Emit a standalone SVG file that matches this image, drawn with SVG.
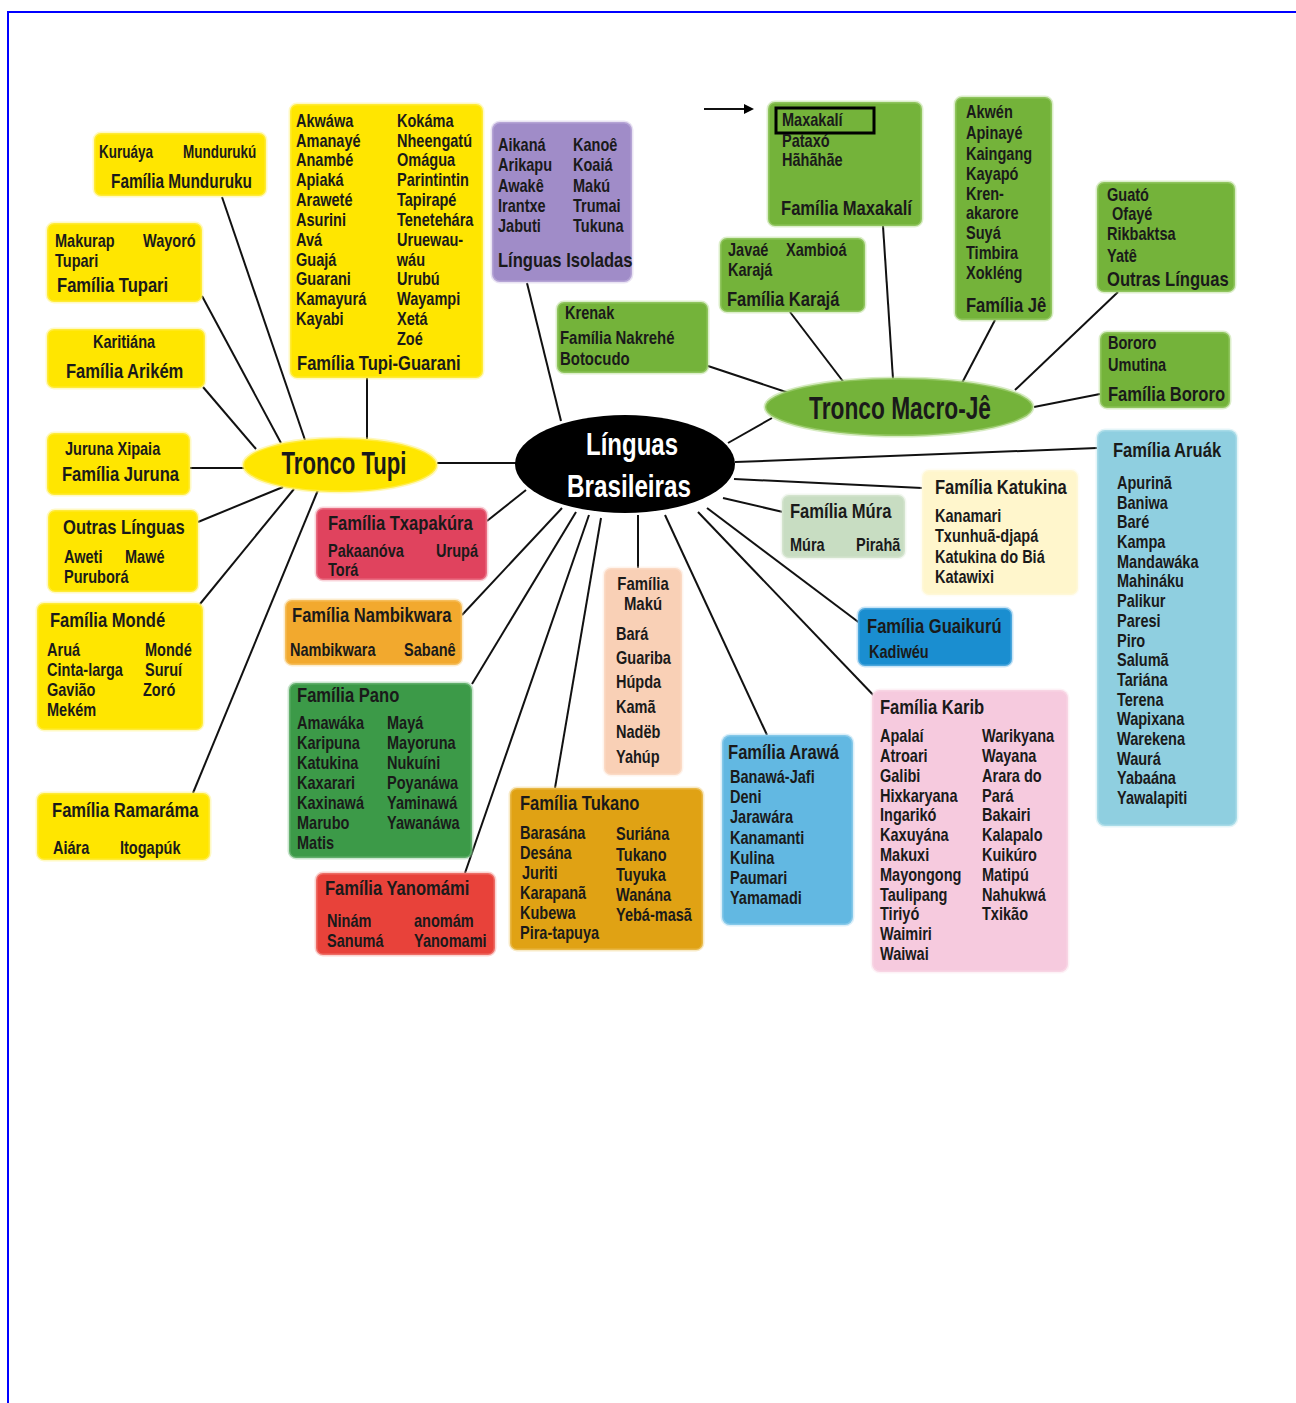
<svg xmlns="http://www.w3.org/2000/svg" width="1296" height="1403" viewBox="0 0 1296 1403">
<defs>
<style>
text{font-family:"Liberation Sans",Arial,sans-serif;font-weight:bold;fill:#1a1a1a;font-size:17.5px;transform-box:fill-box;transform-origin:left center;transform:scaleX(0.83);}
.t{font-size:20px;}
.m{font-size:18px;}
.big{font-size:31px;transform:none;}
.w{fill:#ffffff;}
.c{text-anchor:middle;transform-origin:center;}
#n-munduruku text{transform:scaleX(0.77);}
rect.b{stroke-width:3;stroke-opacity:0.45;}
.yl{fill:#ffe600;stroke:#fff27a;}
.gr{fill:#74b33a;stroke:#b2d98a;}
.pu{fill:#a08cc8;stroke:#cfc2e4;}
.pn{fill:#3c9a48;stroke:#8cc894;}
.tk{fill:#e0a214;stroke:#f0d080;}
.nb{fill:#f2a92e;stroke:#f9d590;}
.tx{fill:#e0435e;stroke:#f2a0ae;}
.ya{fill:#e8423a;stroke:#f4a09a;}
.mk{fill:#f9d0b6;stroke:#fce6d8;}
.mu{fill:#c8ddc2;stroke:#e2eede;}
.ka{fill:#fff6cc;stroke:#fffae6;}
.gu{fill:#1a8ed0;stroke:#86c4ea;}
.kb{fill:#f6cade;stroke:#fae2ec;}
.aw{fill:#62b8e2;stroke:#b0dcf2;}
.ar{fill:#8fcfe0;stroke:#c6e8f0;}
#connectors line{stroke:#111;stroke-width:2;}
</style>
<marker id="ah" markerWidth="10" markerHeight="10" refX="8" refY="5" orient="auto" markerUnits="userSpaceOnUse" viewBox="0 0 10 10">
<polygon points="0,0 10,5 0,10" fill="#000"/>
</marker>
</defs>
<rect x="0" y="0" width="1296" height="1403" fill="#ffffff"/>
<path d="M8 1403 V12 H1296" fill="none" stroke="#0000ff" stroke-width="2"/>

<g id="connectors">
<line x1="222" y1="197" x2="305" y2="440"/>
<line x1="202" y1="296" x2="281" y2="443"/>
<line x1="203" y1="387" x2="256" y2="449"/>
<line x1="367" y1="378" x2="367" y2="439"/>
<line x1="190" y1="468" x2="244" y2="468"/>
<line x1="198" y1="522" x2="283" y2="487"/>
<line x1="200" y1="604" x2="294" y2="489"/>
<line x1="193" y1="793" x2="318" y2="490"/>
<line x1="437" y1="463" x2="516" y2="463"/>
<line x1="527" y1="283" x2="561" y2="421"/>
<line x1="728" y1="443" x2="772" y2="418"/>
<line x1="708" y1="366" x2="792" y2="394"/>
<line x1="790" y1="312" x2="845" y2="384"/>
<line x1="883" y1="226" x2="893" y2="379"/>
<line x1="995" y1="320" x2="962" y2="383"/>
<line x1="1118" y1="292" x2="1015" y2="390"/>
<line x1="1100" y1="394" x2="1034" y2="407"/>
<line x1="735" y1="462" x2="1097" y2="448"/>
<line x1="734" y1="479" x2="922" y2="488"/>
<line x1="723" y1="498" x2="783" y2="512"/>
<line x1="707" y1="508" x2="861" y2="624"/>
<line x1="698" y1="512" x2="878" y2="700"/>
<line x1="665" y1="515" x2="767" y2="735"/>
<line x1="638" y1="515" x2="638" y2="568"/>
<line x1="601" y1="518" x2="555" y2="788"/>
<line x1="589" y1="515" x2="465" y2="873"/>
<line x1="576" y1="512" x2="472" y2="684"/>
<line x1="562" y1="508" x2="462" y2="615"/>
<line x1="526" y1="490" x2="487" y2="521"/>
<line x1="704" y1="109" x2="752" y2="109" marker-end="url(#ah)"/>
</g>

<g id="n-linguas-brasileiras">
<ellipse cx="625" cy="464" rx="110" ry="49" fill="#000"/>
<text class="big w c" x="632" y="455" textLength="92" lengthAdjust="spacingAndGlyphs">Línguas</text>
<text class="big w c" x="629" y="497" textLength="124" lengthAdjust="spacingAndGlyphs">Brasileiras</text>
</g>

<g id="n-tronco-tupi">
<ellipse cx="340" cy="465" rx="97" ry="27" fill="#ffe600" stroke="#fff27a" stroke-width="3" stroke-opacity="0.5"/>
<text class="big c" x="344" y="474" textLength="125" lengthAdjust="spacingAndGlyphs">Tronco Tupi</text>
</g>

<g id="n-tronco-macro-je">
<ellipse cx="899" cy="407" rx="134" ry="29" fill="#74b33a" stroke="#b2d98a" stroke-width="3" stroke-opacity="0.5"/>
<text class="big c" x="900" y="419" textLength="182" lengthAdjust="spacingAndGlyphs">Tronco Macro-Jê</text>
</g>

<g id="n-munduruku">
<rect class="b yl" x="94" y="133" width="172" height="63" rx="7"/>
<text x="99" y="158">Kuruáya</text>
<text x="183" y="158">Mundurukú</text>
<text class="t" x="111" y="188">Família Munduruku</text>
</g>

<g id="n-tupari">
<rect class="b yl" x="47" y="223" width="155" height="79" rx="7"/>
<text x="55" y="247">Makurap</text>
<text x="143" y="247">Wayoró</text>
<text x="55" y="267">Tupari</text>
<text class="t" x="57" y="292">Família Tupari</text>
</g>

<g id="n-arikem">
<rect class="b yl" x="47" y="329" width="158" height="59" rx="7"/>
<text x="93" y="348">Karitiána</text>
<text class="t" x="66" y="378">Família Arikém</text>
</g>

<g id="n-juruna">
<rect class="b yl" x="47" y="433" width="143" height="62" rx="7"/>
<text x="65" y="455">Juruna Xipaia</text>
<text class="t" x="62" y="481">Família Juruna</text>
</g>

<g id="n-outras-tupi">
<rect class="b yl" x="48" y="510" width="150" height="82" rx="7"/>
<text class="t" x="63" y="534">Outras Línguas</text>
<text x="64" y="563">Aweti</text>
<text x="125" y="563">Mawé</text>
<text x="64" y="583">Puruborá</text>
</g>

<g id="n-monde">
<rect class="b yl" x="37" y="603" width="166" height="127" rx="7"/>
<text class="t" x="50" y="627">Família Mondé</text>
<text x="47" y="656">Aruá</text>
<text x="145" y="656">Mondé</text>
<text x="47" y="676">Cinta-larga</text>
<text x="145" y="676">Suruí</text>
<text x="47" y="696">Gavião</text>
<text x="143" y="696">Zoró</text>
<text x="47" y="716">Mekém</text>
</g>

<g id="n-ramarama">
<rect class="b yl" x="37" y="793" width="173" height="67" rx="7"/>
<text class="t" x="52" y="817">Família Ramaráma</text>
<text x="53" y="854">Aiára</text>
<text x="120" y="854">Itogapúk</text>
</g>

<g id="n-tupi-guarani">
<rect class="b yl" x="290" y="104" width="193" height="274" rx="7"/>
<text x="296" y="127">Akwáwa</text>
<text x="296" y="147">Amanayé</text>
<text x="296" y="166">Anambé</text>
<text x="296" y="186">Apiaká</text>
<text x="296" y="206">Araweté</text>
<text x="296" y="226">Asurini</text>
<text x="296" y="246">Avá</text>
<text x="296" y="266">Guajá</text>
<text x="296" y="285">Guarani</text>
<text x="296" y="305">Kamayurá</text>
<text x="296" y="325">Kayabi</text>
<text x="397" y="127">Kokáma</text>
<text x="397" y="147">Nheengatú</text>
<text x="397" y="166">Omágua</text>
<text x="397" y="186">Parintintin</text>
<text x="397" y="206">Tapirapé</text>
<text x="397" y="226">Tenetehára</text>
<text x="397" y="246">Uruewau-</text>
<text x="397" y="266">wáu</text>
<text x="397" y="285">Urubú</text>
<text x="397" y="305">Wayampi</text>
<text x="397" y="325">Xetá</text>
<text x="397" y="345">Zoé</text>
<text class="t" x="297" y="370">Família Tupi-Guarani</text>
</g>

<g id="n-isoladas">
<rect class="b pu" x="492" y="122" width="140" height="160" rx="8"/>
<text x="498" y="151">Aikaná</text>
<text x="498" y="171">Arikapu</text>
<text x="498" y="192">Awakê</text>
<text x="498" y="212">Irantxe</text>
<text x="498" y="232">Jabuti</text>
<text x="573" y="151">Kanoê</text>
<text x="573" y="171">Koaiá</text>
<text x="573" y="192">Makú</text>
<text x="573" y="212">Trumai</text>
<text x="573" y="232">Tukuna</text>
<text class="t" x="498" y="267">Línguas Isoladas</text>
</g>

<g id="n-krenak">
<rect class="b gr" x="557" y="302" width="151" height="71" rx="7"/>
<text x="565" y="319">Krenak</text>
<text class="m" x="560" y="344">Família Nakrehé</text>
<text class="m" x="560" y="365">Botocudo</text>
</g>

<g id="n-maxakali">
<rect class="b gr" x="768" y="102" width="154" height="124" rx="7"/>
<rect x="776" y="108" width="98" height="25" fill="none" stroke="#000" stroke-width="3"/>
<text x="782" y="126">Maxakalí</text>
<text x="782" y="147">Pataxó</text>
<text x="782" y="166">Hãhãhãe</text>
<text class="t" x="781" y="215">Família Maxakalí</text>
</g>

<g id="n-karaja">
<rect class="b gr" x="720" y="238" width="145" height="74" rx="7"/>
<text x="728" y="256">Javaé</text>
<text x="786" y="256">Xambioá</text>
<text x="728" y="276">Karajá</text>
<text class="t" x="727" y="306">Família Karajá</text>
</g>

<g id="n-je">
<rect class="b gr" x="955" y="97" width="97" height="223" rx="7"/>
<text x="966" y="118">Akwén</text>
<text x="966" y="139">Apinayé</text>
<text x="966" y="160">Kaingang</text>
<text x="966" y="180">Kayapó</text>
<text x="966" y="200">Kren-</text>
<text x="966" y="219">akarore</text>
<text x="966" y="239">Suyá</text>
<text x="966" y="259">Timbira</text>
<text x="966" y="279">Xokléng</text>
<text class="t" x="966" y="312">Família Jê</text>
</g>

<g id="n-outras-macro-je">
<rect class="b gr" x="1097" y="182" width="138" height="110" rx="7"/>
<text x="1107" y="201">Guató</text>
<text x="1112" y="220">Ofayé</text>
<text x="1107" y="240">Rikbaktsa</text>
<text x="1107" y="262">Yatê</text>
<text class="t" x="1107" y="286">Outras Línguas</text>
</g>

<g id="n-bororo">
<rect class="b gr" x="1100" y="332" width="130" height="76" rx="7"/>
<text x="1108" y="349">Bororo</text>
<text x="1108" y="371">Umutina</text>
<text class="t" x="1108" y="401">Família Bororo</text>
</g>

<g id="n-aruak">
<rect class="b ar" x="1097" y="430" width="140" height="396" rx="8"/>
<text class="t" x="1113" y="457">Família Aruák</text>
<text x="1117" y="489">Apurinã</text>
<text x="1117" y="509">Baniwa</text>
<text x="1117" y="528">Baré</text>
<text x="1117" y="548">Kampa</text>
<text x="1117" y="568">Mandawáka</text>
<text x="1117" y="587">Mahináku</text>
<text x="1117" y="607">Palikur</text>
<text x="1117" y="627">Paresi</text>
<text x="1117" y="647">Piro</text>
<text x="1117" y="666">Salumã</text>
<text x="1117" y="686">Tariána</text>
<text x="1117" y="706">Terena</text>
<text x="1117" y="725">Wapixana</text>
<text x="1117" y="745">Warekena</text>
<text x="1117" y="765">Waurá</text>
<text x="1117" y="784">Yabaána</text>
<text x="1117" y="804">Yawalapiti</text>
</g>

<g id="n-katukina">
<rect class="b ka" x="922" y="470" width="156" height="125" rx="7"/>
<text class="t" x="935" y="494">Família Katukina</text>
<text x="935" y="522">Kanamari</text>
<text x="935" y="542">Txunhuã-djapá</text>
<text x="935" y="563">Katukina do Biá</text>
<text x="935" y="583">Katawixi</text>
</g>

<g id="n-mura">
<rect class="b mu" x="782" y="495" width="123" height="63" rx="7"/>
<text class="t" x="790" y="518">Família Múra</text>
<text x="790" y="551">Múra</text>
<text x="856" y="551">Pirahã</text>
</g>

<g id="n-guaikuru">
<rect class="b gu" x="858" y="608" width="154" height="58" rx="7"/>
<text class="t" x="867" y="633">Família Guaikurú</text>
<text x="869" y="658">Kadiwéu</text>
</g>

<g id="n-karib">
<rect class="b kb" x="872" y="690" width="196" height="282" rx="8"/>
<text class="t" x="880" y="714">Família Karib</text>
<text x="880" y="742">Apalaí</text>
<text x="880" y="762">Atroari</text>
<text x="880" y="782">Galibi</text>
<text x="880" y="802">Hixkaryana</text>
<text x="880" y="821">Ingarikó</text>
<text x="880" y="841">Kaxuyána</text>
<text x="880" y="861">Makuxi</text>
<text x="880" y="881">Mayongong</text>
<text x="880" y="901">Taulipang</text>
<text x="880" y="920">Tiriyó</text>
<text x="880" y="940">Waimiri</text>
<text x="880" y="960">Waiwai</text>
<text x="982" y="742">Warikyana</text>
<text x="982" y="762">Wayana</text>
<text x="982" y="782">Arara do</text>
<text x="982" y="802">Pará</text>
<text x="982" y="821">Bakairi</text>
<text x="982" y="841">Kalapalo</text>
<text x="982" y="861">Kuikúro</text>
<text x="982" y="881">Matipú</text>
<text x="982" y="901">Nahukwá</text>
<text x="982" y="920">Txikão</text>
</g>

<g id="n-arawa">
<rect class="b aw" x="722" y="735" width="131" height="190" rx="8"/>
<text class="t" x="728" y="759">Família Arawá</text>
<text x="730" y="783">Banawá-Jafi</text>
<text x="730" y="803">Deni</text>
<text x="730" y="823">Jarawára</text>
<text x="730" y="844">Kanamanti</text>
<text x="730" y="864">Kulina</text>
<text x="730" y="884">Paumari</text>
<text x="730" y="904">Yamamadi</text>
</g>

<g id="n-tukano">
<rect class="b tk" x="510" y="788" width="193" height="162" rx="7"/>
<text class="t" x="520" y="810">Família Tukano</text>
<text x="520" y="839">Barasána</text>
<text x="520" y="859">Desána</text>
<text x="522" y="879">Juriti</text>
<text x="520" y="899">Karapanã</text>
<text x="520" y="919">Kubewa</text>
<text x="520" y="939">Pira-tapuya</text>
<text x="616" y="840">Suriána</text>
<text x="616" y="861">Tukano</text>
<text x="616" y="881">Tuyuka</text>
<text x="616" y="901">Wanána</text>
<text x="616" y="921">Yebá-masã</text>
</g>

<g id="n-maku">
<rect class="b mk" x="604" y="568" width="78" height="207" rx="7"/>
<text class="c m" x="643" y="590">Família</text>
<text class="c m" x="643" y="610">Makú</text>
<text x="616" y="640">Bará</text>
<text x="616" y="664">Guariba</text>
<text x="616" y="688">Húpda</text>
<text x="616" y="713">Kamã</text>
<text x="616" y="738">Nadëb</text>
<text x="616" y="763">Yahúp</text>
</g>

<g id="n-yanomami">
<rect class="b ya" x="316" y="873" width="179" height="82" rx="7"/>
<text class="t" x="325" y="895">Família Yanomámi</text>
<text x="327" y="927">Ninám</text>
<text x="414" y="927">anomám</text>
<text x="327" y="947">Sanumá</text>
<text x="414" y="947">Yanomami</text>
</g>

<g id="n-pano">
<rect class="b pn" x="289" y="683" width="183" height="175" rx="7"/>
<text class="t" x="297" y="702">Família Pano</text>
<text x="297" y="729">Amawáka</text>
<text x="297" y="749">Karipuna</text>
<text x="297" y="769">Katukina</text>
<text x="297" y="789">Kaxarari</text>
<text x="297" y="809">Kaxinawá</text>
<text x="297" y="829">Marubo</text>
<text x="297" y="849">Matis</text>
<text x="387" y="729">Mayá</text>
<text x="387" y="749">Mayoruna</text>
<text x="387" y="769">Nukuíni</text>
<text x="387" y="789">Poyanáwa</text>
<text x="387" y="809">Yaminawá</text>
<text x="387" y="829">Yawanáwa</text>
</g>

<g id="n-nambikwara">
<rect class="b nb" x="285" y="600" width="177" height="65" rx="7"/>
<text class="t" x="292" y="622">Família Nambikwara</text>
<text x="290" y="656">Nambikwara</text>
<text x="404" y="656">Sabanê</text>
</g>

<g id="n-txapakura">
<rect class="b tx" x="316" y="508" width="171" height="72" rx="7"/>
<text class="t" x="328" y="530">Família Txapakúra</text>
<text x="328" y="557">Pakaanóva</text>
<text x="436" y="557">Urupá</text>
<text x="328" y="576">Torá</text>
</g>
</svg>
